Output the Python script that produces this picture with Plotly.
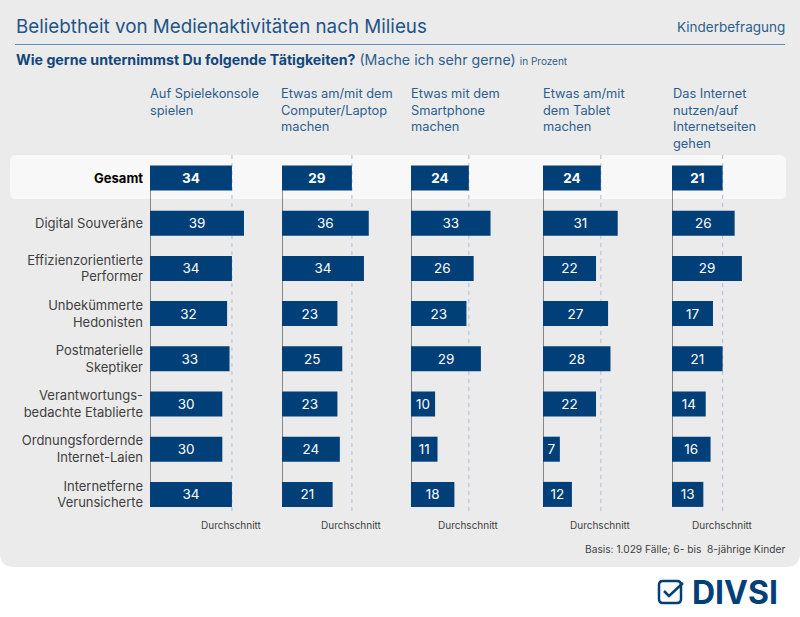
import plotly.graph_objects as go

W, H = 800, 617
TITLE = "Beliebtheit von Medienaktivitäten nach Milieus"
QUESTION = "Wie gerne unternimmst Du folgende Tätigkeiten?"
QUALIFIER = "(Mache ich sehr gerne)"
UNIT = "in Prozent"
BADGE = "Kinderbefragung"
BASIS = "Basis: 1.029 Fälle; 6- bis  8-jährige Kinder"
AVG_LABEL = "Durchschnitt"

milieus = ["Gesamt", "Digital Souveräne", "Effizienzorientierte<br>Performer",
           "Unbekümmerte<br>Hedonisten", "Postmaterielle<br>Skeptiker",
           "Verantwortungs-<br>bedachte Etablierte", "Ordnungsfordernde<br>Internet-Laien",
           "Internetferne<br>Verunsicherte"]
headers = ["Auf Spielekonsole<br>spielen",
           "Etwas am/mit dem<br>Computer/Laptop<br>machen",
           "Etwas mit dem<br>Smartphone<br>machen",
           "Etwas am/mit<br>dem Tablet<br>machen",
           "Das Internet<br>nutzen/auf<br>Internetseiten<br>gehen"]
konsole = [34, 39, 34, 32, 33, 30, 30, 34]
computer = [29, 36, 34, 23, 25, 23, 24, 21]
smartphone = [24, 33, 26, 23, 29, 10, 11, 18]
tablet = [24, 31, 22, 27, 28, 22, 7, 12]
internet = [21, 26, 29, 17, 21, 14, 16, 13]
series = [konsole, computer, smartphone, tablet, internet]

# layout (pixels)
col_left = [150, 282, 411, 543, 672]
head_left = [148, 279, 409, 541, 671]
px_per_unit = 2.41
col_width = 122
row_top, row_bottom = 155.4, 517.0
FONT = "Inter"
BLUE = "#003f78"
HEAD = "#2c5f8e"
GREY = "#3f3f3f"


def px(x):
    return x / W


def py(y):
    return 1 - y / H


def rounded(x0, y0, x1, y1, r):
    a, b, c, d = px(x0), py(y0), px(x1), py(y1)
    rx, ry = r / W, r / H
    return (f"M{a + rx},{b} L{c - rx},{b} Q{c},{b} {c},{b - ry} L{c},{d + ry} Q{c},{d} {c - rx},{d} "
            f"L{a + rx},{d} Q{a},{d} {a},{d + ry} L{a},{b - ry} Q{a},{b} {a + rx},{b} Z")


labels = ['<b><span style="color:#000000">Gesamt</span></b>'] + milieus[1:]
fig = go.Figure()
shapes = [
    dict(type="path", path=rounded(0, -20, 800, 567, 14), xref="paper", yref="paper",
         fillcolor="#ebebeb", line_width=0, layer="below"),
    dict(type="path", path=rounded(10, 155, 786, 199, 6), xref="paper", yref="paper",
         fillcolor="#f8f8f8", line_width=0, layer="below"),
    dict(type="line", x0=px(15), x1=px(785), y0=py(44.5), y1=py(44.5), xref="paper", yref="paper",
         line=dict(color="#5f8fbb", width=1), layer="below"),
]
annotations = []
layout_axes = {}
for i, vals in enumerate(series):
    n = "" if i == 0 else str(i + 1)
    xname = "x" + n
    layout_axes["xaxis" + n] = dict(
        domain=[px(col_left[i]), px(col_left[i] + col_width)],
        range=[0, col_width / px_per_unit], visible=False, anchor="y", fixedrange=True)
    fig.add_trace(go.Bar(
        x=vals, y=labels, xaxis=xname, yaxis="y", orientation="h", width=0.553,
        marker=dict(color=BLUE, line=dict(width=0)),
        text=[f"<b>{v}</b>" if j == 0 else str(v) for j, v in enumerate(vals)],
        textposition="inside", insidetextanchor="middle", textangle=0, constraintext="none",
        textfont=dict(family=FONT, size=13.5, color="#ffffff"), showlegend=False, hoverinfo="skip"))
    avg = vals[0]
    shapes.append(dict(type="line", xref=xname, yref="paper", x0=avg, x1=avg,
                       y0=py(155), y1=py(512), line=dict(color="#b9c8e0", width=1.2, dash="4px,4px"),
                       layer="below"))
    shapes.append(dict(type="line", xref=xname, yref="paper", x0=0, x1=0,
                       y0=py(166), y1=py(506), line=dict(color="#222222", width=1), layer="below"))
    annotations.append(dict(text=AVG_LABEL, xref=xname, yref="paper", x=avg, y=py(525), showarrow=False,
                            xanchor="center", yanchor="middle",
                            font=dict(family=FONT, size=10, color=GREY)))
    annotations.append(dict(text=headers[i], xref="paper", yref="paper", x=px(head_left[i]), y=py(84),
                            showarrow=False, xanchor="left", yanchor="top", align="left",
                            font=dict(family=FONT, size=12.8, color=HEAD)))


def note(text, x, y, size, color, anchor="left"):
    annotations.append(dict(text=text, xref="paper", yref="paper", x=px(x), y=py(y), showarrow=False,
                            xanchor=anchor, yanchor="middle", font=dict(family=FONT, size=size, color=color)))


note(TITLE, 14, 26, 18.8, "#1f5487")
note(BADGE, 787, 27, 13.5, HEAD, "right")
note(f'<b>{QUESTION}</b> <span style="color:{HEAD}">{QUALIFIER}</span> '
     f'<span style="font-size:10px;color:{HEAD}">{UNIT}</span>', 14, 60, 14.2, "#12477c")
note(BASIS, 787, 549, 10.2, GREY, "right")
note("<b>DIVSI</b>", 690, 592, 32, BLUE)

# logo icon
shapes.append(dict(type="path", path=rounded(659, 581, 681, 603, 4), xref="paper", yref="paper",
                   fillcolor="rgba(0,0,0,0)", line=dict(color=BLUE, width=2.5)))
shapes.append(dict(type="path",
                   path=f"M{px(664)},{py(591)} L{px(669)},{py(596)} L{px(683)},{py(583)}",
                   xref="paper", yref="paper", fillcolor="rgba(0,0,0,0)", line=dict(color=BLUE, width=2.5)))

fig.update_layout(
    width=W, height=H, autosize=False, margin=dict(l=0, r=0, t=0, b=0),
    paper_bgcolor="#ffffff", plot_bgcolor="rgba(0,0,0,0)", barmode="overlay",
    yaxis=dict(domain=[py(row_bottom), py(row_top)], type="category", categoryorder="array",
               categoryarray=labels, autorange=False, range=[7.5, -0.5], anchor="x",
               showgrid=False, showline=False, zeroline=False, ticks="", ticklabelstandoff=6,
               tickfont=dict(family=FONT, size=13, color=GREY), fixedrange=True),
    shapes=shapes, annotations=annotations, **layout_axes)
fig.write_html("out.html", config={"displayModeBar": False},
               post_script="document.body.style.margin='0';document.documentElement.style.overflow='hidden';")
